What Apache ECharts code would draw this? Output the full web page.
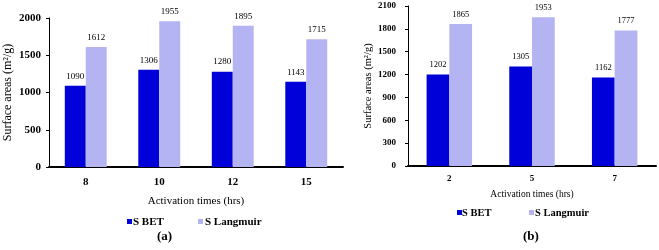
<!DOCTYPE html>
<html><head><meta charset="utf-8">
<script src="https://cdn.jsdelivr.net/npm/echarts@6/dist/echarts.min.js"></script>
<style>html,body{margin:0;padding:0;background:#fff}#c{width:659px;height:250px}</style>
</head><body><div id="c"></div>
<script>
var catsA = ['8', '10', '12', '15'];
var betA = [1090, 1306, 1280, 1143];
var langA = [1612, 1955, 1895, 1715];
var catsB = ['2', '5', '7'];
var betB = [1202, 1305, 1162];
var langB = [1865, 1953, 1777];
var yTicksA = [0, 500, 1000, 1500, 2000];
var yTicksB = [0, 300, 600, 900, 1200, 1500, 1800, 2100];
var seriesNames = ['S BET', 'S Langmuir'];

var F = 'Liberation Serif';
var BLUE = '#0000d8';
var LAV = '#b4b4f2';
var chart = echarts.init(document.getElementById('c'), null, {renderer: 'canvas'});

function lbl(fs) {
  return {show: true, position: 'top', distance: 5, fontFamily: F, fontSize: fs, color: '#000'};
}
function leg(name, left, top) {
  return {data: [name], left: left, top: top, itemWidth: 5, itemHeight: 5, itemGap: 0,
    icon: 'rect', padding: 0, selectedMode: false, formatter: function () { return ''; },
    textStyle: {fontSize: 1}};
}
function legText(name, x, y, fs) {
  return {type: 'text', x: x, y: y, silent: true,
    style: {text: name, font: 'bold ' + fs + 'px "Liberation Serif"', fill: '#000', textVerticalAlign: 'middle', verticalAlign: 'middle'}};
}
function plain(v) { return String(v); }

chart.setOption({
  animation: false,
  backgroundColor: '#fff',
  textStyle: {fontFamily: F},
  grid: [
    {left: 49, top: 18, width: 294, height: 149},
    {left: 408, top: 6, width: 248, height: 160}
  ],
  legend: [
    leg(seriesNames[0], 127, 219),
    leg(seriesNames[1], 198, 219),
    leg(seriesNames[0], 457, 210),
    leg(seriesNames[1], 529, 210)
  ],
  xAxis: [
    {type: 'category', gridIndex: 0, data: catsA,
     axisLine: {lineStyle: {color: '#000', width: 2}}, axisTick: {show: false},
     axisLabel: {fontFamily: F, fontSize: 11, fontWeight: 'bold', color: '#000', margin: 10},
     name: 'Activation times (hrs)', nameLocation: 'middle', nameGap: 29,
     nameTextStyle: {fontFamily: F, fontSize: 11, color: '#000'}},
    {type: 'category', gridIndex: 1, data: catsB,
     axisLine: {lineStyle: {color: '#000', width: 2}}, axisTick: {show: false},
     axisLabel: {fontFamily: F, fontSize: 9, fontWeight: 'bold', color: '#000', margin: 8},
     name: 'Activation times (hrs)', nameLocation: 'middle', nameGap: 23,
     nameTextStyle: {fontFamily: F, fontSize: 9.5, color: '#000'}}
  ],
  yAxis: [
    {type: 'value', gridIndex: 0, min: yTicksA[0], max: yTicksA[yTicksA.length - 1], interval: yTicksA[1] - yTicksA[0],
     splitLine: {show: false},
     axisLine: {show: true, lineStyle: {color: '#000', width: 1}},
     axisTick: {show: true, length: 3, lineStyle: {color: '#000'}},
     axisLabel: {fontFamily: F, fontSize: 11, fontWeight: 'bold', color: '#000', margin: 8, formatter: plain},
     name: 'Surface areas (m\u00B2/g)', nameLocation: 'middle', nameGap: 35,
     nameTextStyle: {fontFamily: F, fontSize: 12, color: '#000'}},
    {type: 'value', gridIndex: 1, min: yTicksB[0], max: yTicksB[yTicksB.length - 1], interval: yTicksB[1] - yTicksB[0],
     splitLine: {show: false},
     axisLine: {show: true, lineStyle: {color: '#000', width: 1}},
     axisTick: {show: true, length: 3, lineStyle: {color: '#000'}},
     axisLabel: {fontFamily: F, fontSize: 9, fontWeight: 'bold', color: '#000', margin: 12, formatter: plain},
     name: 'Surface areas (m\u00B2/g)', nameLocation: 'middle', nameGap: 29,
     nameTextStyle: {fontFamily: F, fontSize: 10.5, color: '#000'}}
  ],
  series: [
    {name: seriesNames[0], type: 'bar', xAxisIndex: 0, yAxisIndex: 0, data: betA,
     barGap: '0%', barCategoryGap: '43%', itemStyle: {color: BLUE}, label: lbl(9)},
    {name: seriesNames[1], type: 'bar', xAxisIndex: 0, yAxisIndex: 0, data: langA,
     barGap: '0%', barCategoryGap: '43%', itemStyle: {color: LAV}, label: lbl(9)},
    {name: seriesNames[0], type: 'bar', xAxisIndex: 1, yAxisIndex: 1, data: betB,
     barGap: '0%', barCategoryGap: '45%', itemStyle: {color: BLUE}, label: lbl(8.5)},
    {name: seriesNames[1], type: 'bar', xAxisIndex: 1, yAxisIndex: 1, data: langB,
     barGap: '0%', barCategoryGap: '45%', itemStyle: {color: LAV}, label: lbl(8.5)}
  ],
  graphic: [
    legText(seriesNames[0], 133, 222, 11),
    legText(seriesNames[1], 205, 222, 11),
    legText(seriesNames[0], 462, 213, 10.5),
    legText(seriesNames[1], 535, 213, 10.5),
    {type: 'text', left: 157, top: 230, style: {text: '(a)', font: 'bold 13px "Liberation Serif"', fill: '#000'}},
    {type: 'text', left: 523, top: 230, style: {text: '(b)', font: 'bold 13px "Liberation Serif"', fill: '#000'}}
  ]
});
</script></body></html>
